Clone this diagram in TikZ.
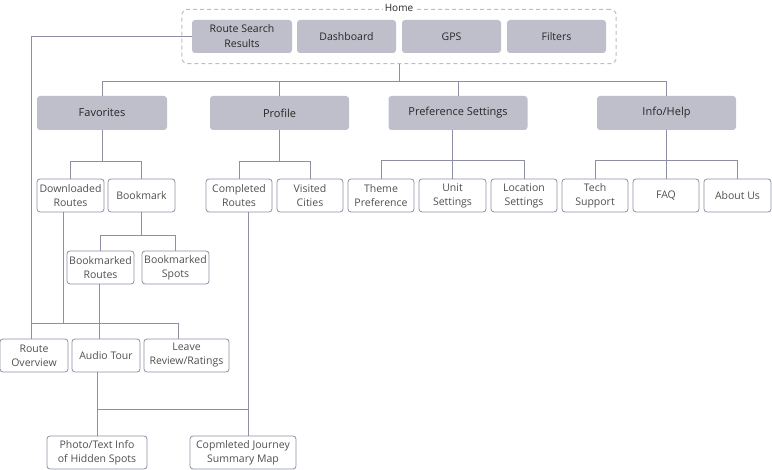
\documentclass[tikz,border=0pt]{standalone}
\usepackage{fontspec}
\setmainfont{Open Sans}
\usetikzlibrary{fit}
\definecolor{navfill}{HTML}{BFBFCC}
\definecolor{navline}{HTML}{8E8EA4}
\definecolor{navdash}{HTML}{BDBDC6}
\definecolor{navtext}{HTML}{262626}
\definecolor{subtext}{HTML}{505050}
\tikzset{
  mainpage/.style={
    rectangle, rounded corners=3pt, fill=navfill, draw=none,
    minimum height=33pt, inner sep=0pt, align=center,
    text=navtext, font=\fontsize{10.5}{15}\selectfont
  },
  section/.style={
    mainpage, minimum width=139pt, minimum height=34pt,
    font=\fontsize{11}{15}\selectfont
  },
  subpage/.style={
    rectangle, rounded corners=3pt, draw=navline, fill=white, line width=0.8pt,
    minimum height=33pt, inner sep=0pt, align=center,
    text=subtext, font=\fontsize{10.5}{14}\selectfont
  },
  homebox/.style={
    rectangle, rounded corners=6pt, draw=navdash, dashed, line width=1pt,
    dash pattern=on 4pt off 3pt
  },
  link/.style={draw=navline, line width=0.8pt}
}

\begin{document}
\begin{tikzpicture}[x=1pt, y=-1pt]
  \useasboundingbox (0,0) rectangle (772,470);

  % Home screen
  \node[mainpage, minimum width=100pt] (rsr) at (242,36.5) {Route Search\\Results};
  \node[mainpage, minimum width=99pt] (dash) at (346.5,36.5) {Dashboard};
  \node[mainpage, minimum width=99pt] (gps) at (451.5,36.5) {GPS};
  \node[mainpage, minimum width=99pt] (filt) at (556.5,36.5) {Filters};
  \node[homebox, inner xsep=10pt, inner ysep=10.5pt, fit=(rsr)(filt)] (home) {};
  \node[fill=white, inner sep=2pt, text=navtext, font=\fontsize{10}{12}\selectfont] (hometitle) at ([yshift=1pt]home.north) {Home};

  % Main sections
  \node[section, minimum width=130pt] (fav) at (102,113) {Favorites};
  \node[section] (prof) at (279.5,113) {Profile};
  \node[section] (pref) at (458,113) {Preference Settings};
  \node[section] (info) at (666.5,113) {Info/Help};

  % Second level
  \node[subpage, minimum width=67pt] (dl) at (70.5,195.5) {Downloaded\\Routes};
  \node[subpage, minimum width=67pt] (bm) at (141.5,195.5) {Bookmark};
  \node[subpage, minimum width=66pt] (cr) at (239,195.5) {Completed\\Routes};
  \node[subpage, minimum width=66pt] (vc) at (310,195.5) {Visited\\Cities};
  \node[subpage, minimum width=66pt] (tp) at (381,195.5) {Theme\\Preference};
  \node[subpage, minimum width=67pt] (us) at (452.5,195.5) {Unit\\Settings};
  \node[subpage, minimum width=66pt] (ls) at (524,195.5) {Location\\Settings};
  \node[subpage, minimum width=66pt] (ts) at (595,195.5) {Tech\\Support};
  \node[subpage, minimum width=66pt] (faq) at (666,195.5) {FAQ};
  \node[subpage, minimum width=67pt] (au) at (737.5,195.5) {About Us};

  % Bookmarks
  \node[subpage, minimum width=67pt] (bmr) at (100.5,267.5) {Bookmarked\\Routes};
  \node[subpage, minimum width=67pt] (bms) at (175.5,267.5) {Bookmarked\\Spots};

  % Route pages
  \node[subpage, minimum width=68pt] (ro) at (34,355.5) {Route\\Overview};
  \node[subpage, minimum width=68pt] (at) at (106,355.5) {Audio Tour};
  \node[subpage, minimum width=85pt] (lr) at (186.5,355.5) {Leave\\Review/Ratings};
  \node[subpage, minimum width=100pt] (ph) at (97,452.5) {Photo/Text Info\\of Hidden Spots};
  \node[subpage, minimum width=106pt] (cj) at (243,452.5) {Copmleted Journey\\Summary Map};

  % Home to sections
  \draw[link] (home.south) -- ++(0,17) coordinate (topbus);
  \draw[link] (fav.north) |- (topbus) -| (info.north);
  \draw[link] (prof.north) -- (prof.north |- topbus);
  \draw[link] (pref.north) -- (pref.north |- topbus);

  % Sections to second level
  \draw[link] (fav.south) -- ++(0,31) coordinate (favbus);
  \draw[link] (dl.north) |- (favbus) -| (bm.north);
  \draw[link] (prof.south) -- ++(0,31) coordinate (profbus);
  \draw[link] (cr.north) |- (profbus) -| (vc.north);
  \draw[link] (us.north |- pref.south) -- (us.north);
  \draw[link] (tp.north) |- ([yshift=18pt]us.north) -| (ls.north);
  \draw[link] (faq.north |- info.south) -- (faq.north);
  \draw[link] (ts.north) |- ([yshift=18pt]faq.north) -| (au.north);

  % Bookmark branch
  \draw[link] (bm.south) -- ++(0,23) coordinate (bmbus);
  \draw[link] (bmr.north) |- (bmbus) -| (bms.north);

  % Route pages
  \coordinate (lowbus) at (31,323);
  \draw[link] (rsr.west) -| ([xshift=-3pt]ro.north);
  \draw[link] ([xshift=-7.5pt]dl.south) -- ([xshift=-7.5pt]dl.south |- lowbus);
  \draw[link] (lowbus) -| ([xshift=-8.5pt]lr.north);
  \draw[link] ([xshift=-1.5pt]bmr.south) -- ([xshift=-7pt]at.north);
  \draw[link] ([xshift=-9pt]at.south) -- (ph.north);
  \draw[link] ([xshift=9pt]cr.south) -- ([xshift=5pt]cj.north);
  \draw[link] ([yshift=26pt]ph.north) -- ([xshift=5pt,yshift=26pt]cj.north);
\end{tikzpicture}
\end{document}
